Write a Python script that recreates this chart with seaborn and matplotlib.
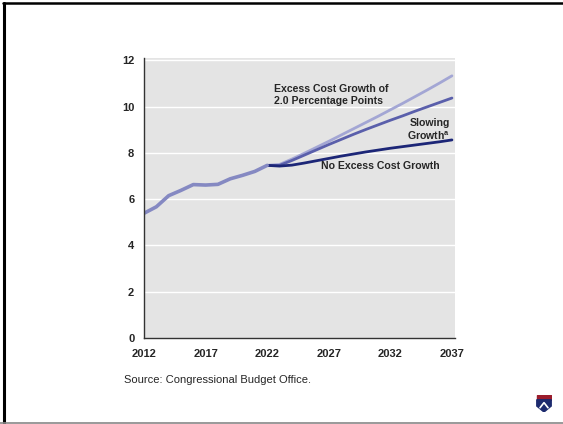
import matplotlib
matplotlib.use("Agg")
import matplotlib.pyplot as plt
import seaborn as sns
import pandas as pd
from matplotlib.lines import Line2D

# Federal health spending, percentage of GDP
hist_years = list(range(2012, 2023))
hist_vals = [5.39, 5.67, 6.15, 6.38, 6.63, 6.61, 6.64, 6.88, 7.03, 7.2, 7.46]

proj_years = list(range(2022, 2038))
excess_vals = [7.46, 7.5, 7.73, 7.98, 8.24, 8.5, 8.77, 9.04, 9.31, 9.58, 9.86, 10.14, 10.43, 10.72, 11.02, 11.33]
slowing_vals = [7.46, 7.46, 7.67, 7.9, 8.13, 8.36, 8.58, 8.8, 9.01, 9.21, 9.41, 9.6, 9.8, 9.99, 10.18, 10.37]
noexcess_vals = [7.46, 7.43, 7.47, 7.56, 7.66, 7.76, 7.86, 7.95, 8.04, 8.12, 8.2, 8.27, 8.34, 8.41, 8.48, 8.56]

x_ticks = [2012, 2017, 2022, 2027, 2032, 2037]
y_ticks = [0, 2, 4, 6, 8, 10, 12]

label_excess = "Excess Cost Growth of\n2.0 Percentage Points"
label_slowing = "Slowing\nGrowth$^{\\mathregular{a}}$"
label_noexcess = "No Excess Cost Growth"
source_text = "Source: Congressional Budget Office."

hist_df = pd.DataFrame({"year": hist_years, "value": hist_vals})
proj_df = pd.concat([
    pd.DataFrame({"year": proj_years, "value": excess_vals, "scenario": "excess"}),
    pd.DataFrame({"year": proj_years, "value": slowing_vals, "scenario": "slowing"}),
    pd.DataFrame({"year": proj_years, "value": noexcess_vals, "scenario": "noexcess"}),
])

sns.set_style("white")
plt.rcParams["font.family"] = ["Liberation Sans", "DejaVu Sans"]

fig = plt.figure(figsize=(5.63, 4.24), dpi=100)
ax = fig.add_axes([0.2558, 0.2028, 0.5524, 0.6604])
ax.set_facecolor("#e4e4e4")

palette = {"excess": "#a3a6d4", "slowing": "#5a5fab", "noexcess": "#1c2677"}
sns.lineplot(data=proj_df, x="year", y="value", hue="scenario", palette=palette,
             hue_order=["excess", "slowing", "noexcess"], linewidth=2.0,
             legend=False, ax=ax)
sns.lineplot(data=hist_df, x="year", y="value", color="#8589c2", linewidth=2.6,
             legend=False, ax=ax)

ax.set_xlim(2012, 2037.25)
ax.set_ylim(0, 12.1)
ax.set_xticks(x_ticks)
ax.set_yticks(y_ticks)
ax.set_xticklabels([str(t) for t in x_ticks], fontsize=8, fontweight="bold")
ax.set_yticklabels([str(t) for t in y_ticks], fontsize=8, fontweight="bold")
ax.set_xlabel("")
ax.set_ylabel("")
for y in y_ticks[1:]:
    ax.axhline(y, color="white", linewidth=1.0, zorder=0.5)
ax.tick_params(axis="both", direction="in", length=3, width=0.8, color="#333333")
ax.tick_params(axis="x", pad=8)
ax.tick_params(axis="y", pad=7)
for side in ["top", "right"]:
    ax.spines[side].set_visible(False)
for side in ["left", "bottom"]:
    ax.spines[side].set_color("#333333")
    ax.spines[side].set_linewidth(1.0)

ax.text(2022.55, 10.5, label_excess, fontsize=7.6, fontweight="bold", ha="left",
        va="center", linespacing=1.2)
ax.text(2036.85, 9.0, label_slowing, fontsize=7.6, fontweight="bold", ha="right",
        va="center", linespacing=1.2)
ax.text(2036.0, 7.45, label_noexcess, fontsize=7.6, fontweight="bold", ha="right",
        va="center")

fig.text(124 / 563, 1 - 380 / 424, source_text, fontsize=8, ha="left", va="center")

# slide frame
fig.add_artist(Line2D([4 / 563, 4 / 563], [0, 1 - 3 / 424], color="black", linewidth=2.2))
fig.add_artist(Line2D([3 / 563, 1], [1 - 3 / 424, 1 - 3 / 424], color="black", linewidth=1.8))
fig.add_artist(Line2D([0, 1], [0.6 / 424, 0.6 / 424], color="#888888", linewidth=1.2))

# shield emblem, lower right
shield = fig.add_axes([536 / 563, 1 - 412 / 424, 16 / 563, 17 / 424])
shield.axis("off")
shield.set_xlim(0, 1)
shield.set_ylim(0, 1)
shield.fill([0.05, 0.95, 0.95, 0.05], [0.72, 0.72, 1.0, 1.0], color="#9b1c2c")
shield.fill([0.05, 0.95, 0.95, 0.5, 0.05], [0.72, 0.72, 0.35, 0.0, 0.35], color="#1c2a6e")
shield.plot([0.25, 0.5, 0.75], [0.25, 0.55, 0.25], color="white", linewidth=1.2)

fig.savefig("out.png", dpi=100)
